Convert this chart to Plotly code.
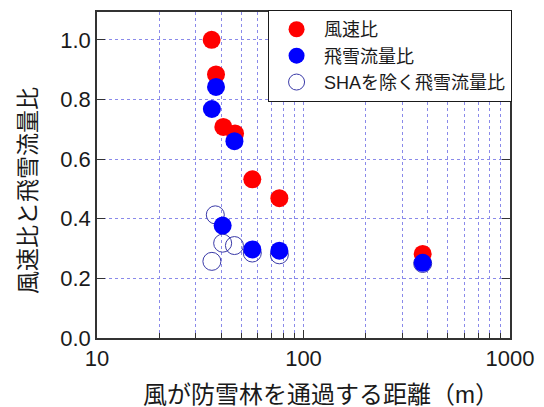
import plotly.graph_objects as go

# Distance the wind travels through the snow-break forest (m)
dist_wind = [35.9, 37.7, 40.9, 46.6, 56.5, 76.4, 377.7]
wind_ratio = [1.00, 0.884, 0.708, 0.686, 0.532, 0.469, 0.282]

dist_flux = [37.7, 36.0, 46.3, 40.6, 56.5, 76.4, 377.7]
flux_ratio = [0.842, 0.768, 0.660, 0.377, 0.297, 0.293, 0.252]

dist_flux_ex = [37.4, 40.6, 46.3, 36.0, 56.5, 76.4, 377.7]
flux_ratio_ex = [0.413, 0.318, 0.310, 0.257, 0.285, 0.279, 0.250]

names = ["風速比", "飛雪流量比", "SHAを除く飛雪流量比"]
y_ticks = [0.0, 0.2, 0.4, 0.6, 0.8, 1.0]
y_tick_labels = ["0.0", "0.2", "0.4", "0.6", "0.8", "1.0"]
x_ticks = [10, 100, 1000]
x_tick_labels = ["10", "100", "1000"]
x_title = "風が防雪林を通過する距離（m）"
y_title = "風速比と飛雪流量比"

FONT = "Liberation Sans, Arial, Noto Sans CJK JP, sans-serif"

fig = go.Figure()
fig.add_trace(go.Scatter(
    x=dist_flux_ex, y=flux_ratio_ex, mode="markers", name=names[2], legendrank=3,
    marker=dict(size=18, color="rgba(255,255,255,0)", line=dict(color="#3a3aa8", width=1)),
))
fig.add_trace(go.Scatter(
    x=dist_wind, y=wind_ratio, mode="markers", name=names[0], legendrank=1,
    marker=dict(size=18, color="#ff0000", line=dict(width=0)),
))
fig.add_trace(go.Scatter(
    x=dist_flux, y=flux_ratio, mode="markers", name=names[1], legendrank=2,
    marker=dict(size=18, color="#0000ff", line=dict(width=0)),
))

grid_col = "#8a8aea"
# The page body adds an 8px offset, so the figure is 8px smaller on each side
fig.update_layout(
    width=536, height=399,
    margin=dict(l=89, r=34, t=2, b=69),
    paper_bgcolor="white", plot_bgcolor="white",
    font=dict(family=FONT, size=22, color="#1a1a1a"),
    showlegend=True,
    legend=dict(
        x=1.005, xanchor="right", y=1.006, yanchor="top",
        bgcolor="white", bordercolor="#1a1a1a", borderwidth=1,
        font=dict(size=18), tracegroupgap=0, itemsizing="trace", itemwidth=45,
    ),
    xaxis=dict(
        type="log", range=[1, 3],
        tickvals=x_ticks, ticktext=x_tick_labels,
        ticks="inside", ticklen=8, tickcolor="#333333",
        showline=True, linecolor="#333333", linewidth=1.5, mirror=True,
        showgrid=True, gridcolor=grid_col, griddash="dot", gridwidth=1,
        minor=dict(dtick="D1", ticks="inside", ticklen=5, tickcolor="#333333",
                   showgrid=True, gridcolor=grid_col, griddash="dot", gridwidth=1),
        zeroline=False,
        tickfont=dict(size=22),
    ),
    yaxis=dict(
        range=[0, 1.0933],
        tickvals=y_ticks, ticktext=y_tick_labels,
        ticks="inside", ticklen=8, tickcolor="#333333",
        showline=True, linecolor="#333333", linewidth=1.5, mirror="ticks",
        showgrid=True, gridcolor=grid_col, griddash="dot", gridwidth=1,
        zeroline=False,
        tickfont=dict(size=22),
    ),
    annotations=[
        dict(text=x_title, xref="paper", yref="paper",
             x=(321 - 97) / 413, y=-(395 - 338) / 328,
             xanchor="center", yanchor="middle", showarrow=False,
             font=dict(size=24)),
        dict(text=y_title, xref="paper", yref="paper", textangle=-90,
             x=-(97 - 28) / 413, y=(338 - 190) / 328,
             xanchor="center", yanchor="middle", showarrow=False,
             font=dict(size=23)),
    ],
)

fig.write_html("out.html")
